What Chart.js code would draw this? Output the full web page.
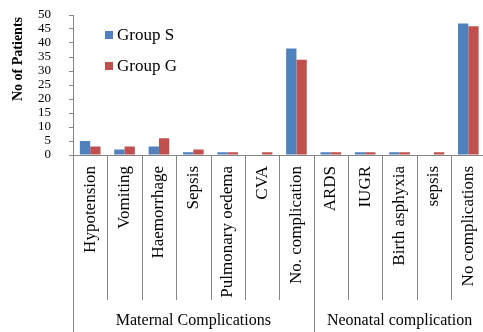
<!DOCTYPE html>
<html>
<head>
<meta charset="utf-8">
<style>
  html, body { margin: 0; padding: 0; background: #fff; overflow: hidden; }
  #wrap { width: 490px; height: 332px; }
</style>
<script src="https://cdn.jsdelivr.net/npm/chart.js@4.4.1/dist/chart.umd.min.js"></script>
</head>
<body>
<div id="wrap"><canvas id="complications" width="490" height="332"></canvas></div>
<script>
const categories = [
  "Hypotension", "Vomiting", "Haemorrhage", "Sepsis", "Pulmonary oedema", "CVA",
  "No. complication", "ARDS", "IUGR", "Birth asphyxia", "sepsis", "No complications"
]
const groupS = [5, 2, 3, 1, 1, 0, 38, 1, 1, 1, 0, 47]
const groupG = [3, 3, 6, 2, 1, 1, 34, 1, 1, 1, 1, 46]
const groupNames = ["Maternal Complications", "Neonatal complication"]
const groupSizes = [7, 5]
const yTicks = [0, 5, 10, 15, 20, 25, 30, 35, 40, 45, 50]

const serif = "'Liberation Serif', 'Times New Roman', serif"
const axisGrey = "#868686"

// separators, group names, axis title and legend drawn on top
const decor = {
  id: "decor",
  afterDraw(chart) {
    const { ctx, chartArea, scales: { x } } = chart
    const half = (x.getPixelForValue(1) - x.getPixelForValue(0)) / 2
    const bottom = chart.height

    ctx.save()
    ctx.strokeStyle = axisGrey
    ctx.lineWidth = 1

    let start = 0
    const groupStarts = [0]
    groupSizes.forEach(n => { start += n; groupStarts.push(start) })

    for (let i = 0; i <= categories.length; i++) {
      const px = Math.round(x.getPixelForValue(i) - half) + 0.5
      const long = groupStarts.includes(i)
      ctx.beginPath()
      ctx.moveTo(px, chartArea.bottom)
      ctx.lineTo(px, long ? bottom : 300)
      ctx.stroke()
    }

    ctx.fillStyle = "#000"
    ctx.font = "16px " + serif
    ctx.textAlign = "center"
    ctx.textBaseline = "middle"
    groupNames.forEach((name, g) => {
      const a = x.getPixelForValue(groupStarts[g]) - half
      const b = x.getPixelForValue(groupStarts[g + 1] - 1) + half
      ctx.fillText(name, (a + b) / 2, 321)
    })

    // y axis title
    ctx.save()
    ctx.translate(18, 59)
    ctx.rotate(-Math.PI / 2)
    ctx.font = "bold 14px " + serif
    ctx.fillText("No of Patients", 0, 0)
    ctx.restore()

    // legend
    ctx.textAlign = "left"
    ctx.font = "17px " + serif
    chart.data.datasets.forEach((ds, i) => {
      const cy = 35 + i * 31
      ctx.fillStyle = ds.backgroundColor
      ctx.fillRect(105, cy - 4, 8, 8)
      ctx.fillStyle = "#000"
      ctx.fillText(ds.label, 117, cy + 1)
    })
    ctx.restore()
  }
}

new Chart(document.getElementById("complications"), {
  type: "bar",
  data: {
    labels: categories,
    datasets: [
      { label: "Group S", data: groupS, backgroundColor: "#4F81BD" },
      { label: "Group G", data: groupG, backgroundColor: "#C0504D" },
    ],
  },
  options: {
    responsive: false,
    animation: false,
    devicePixelRatio: 1,
    categoryPercentage: 0.6,
    barPercentage: 1.0,
    layout: {
      padding: { top: 15, right: 4.5, left: 0, bottom: 0 }
    },
    plugins: {
      legend: { display: false },
      tooltip: { enabled: false },
    },
    scales: {
      x: {
        grid: { display: false, drawTicks: false },
        border: { color: axisGrey },
        ticks: {
          color: "#000",
          font: { family: serif, size: 17 },
          minRotation: 90,
          maxRotation: 90,
          autoSkip: false,
          padding: 11,
        },
        afterFit(scale) {
          scale.height = 177
          scale.paddingLeft = 0
          scale.paddingRight = 0
        },
      },
      y: {
        min: 0,
        max: 50,
        afterBuildTicks(scale) { scale.ticks = yTicks.map(v => ({ value: v })) },
        grid: { drawOnChartArea: false, tickLength: 4, color: axisGrey },
        border: { color: axisGrey },
        ticks: {
          color: "#000",
          font: { family: serif, size: 13 },
          autoSkip: false,
          padding: 18,
        },
        afterFit(scale) {
          scale.width = 73
          scale.paddingTop = 0
          scale.paddingBottom = 0
        },
      },
    },
  },
  plugins: [decor],
})
</script>
</body>
</html>
